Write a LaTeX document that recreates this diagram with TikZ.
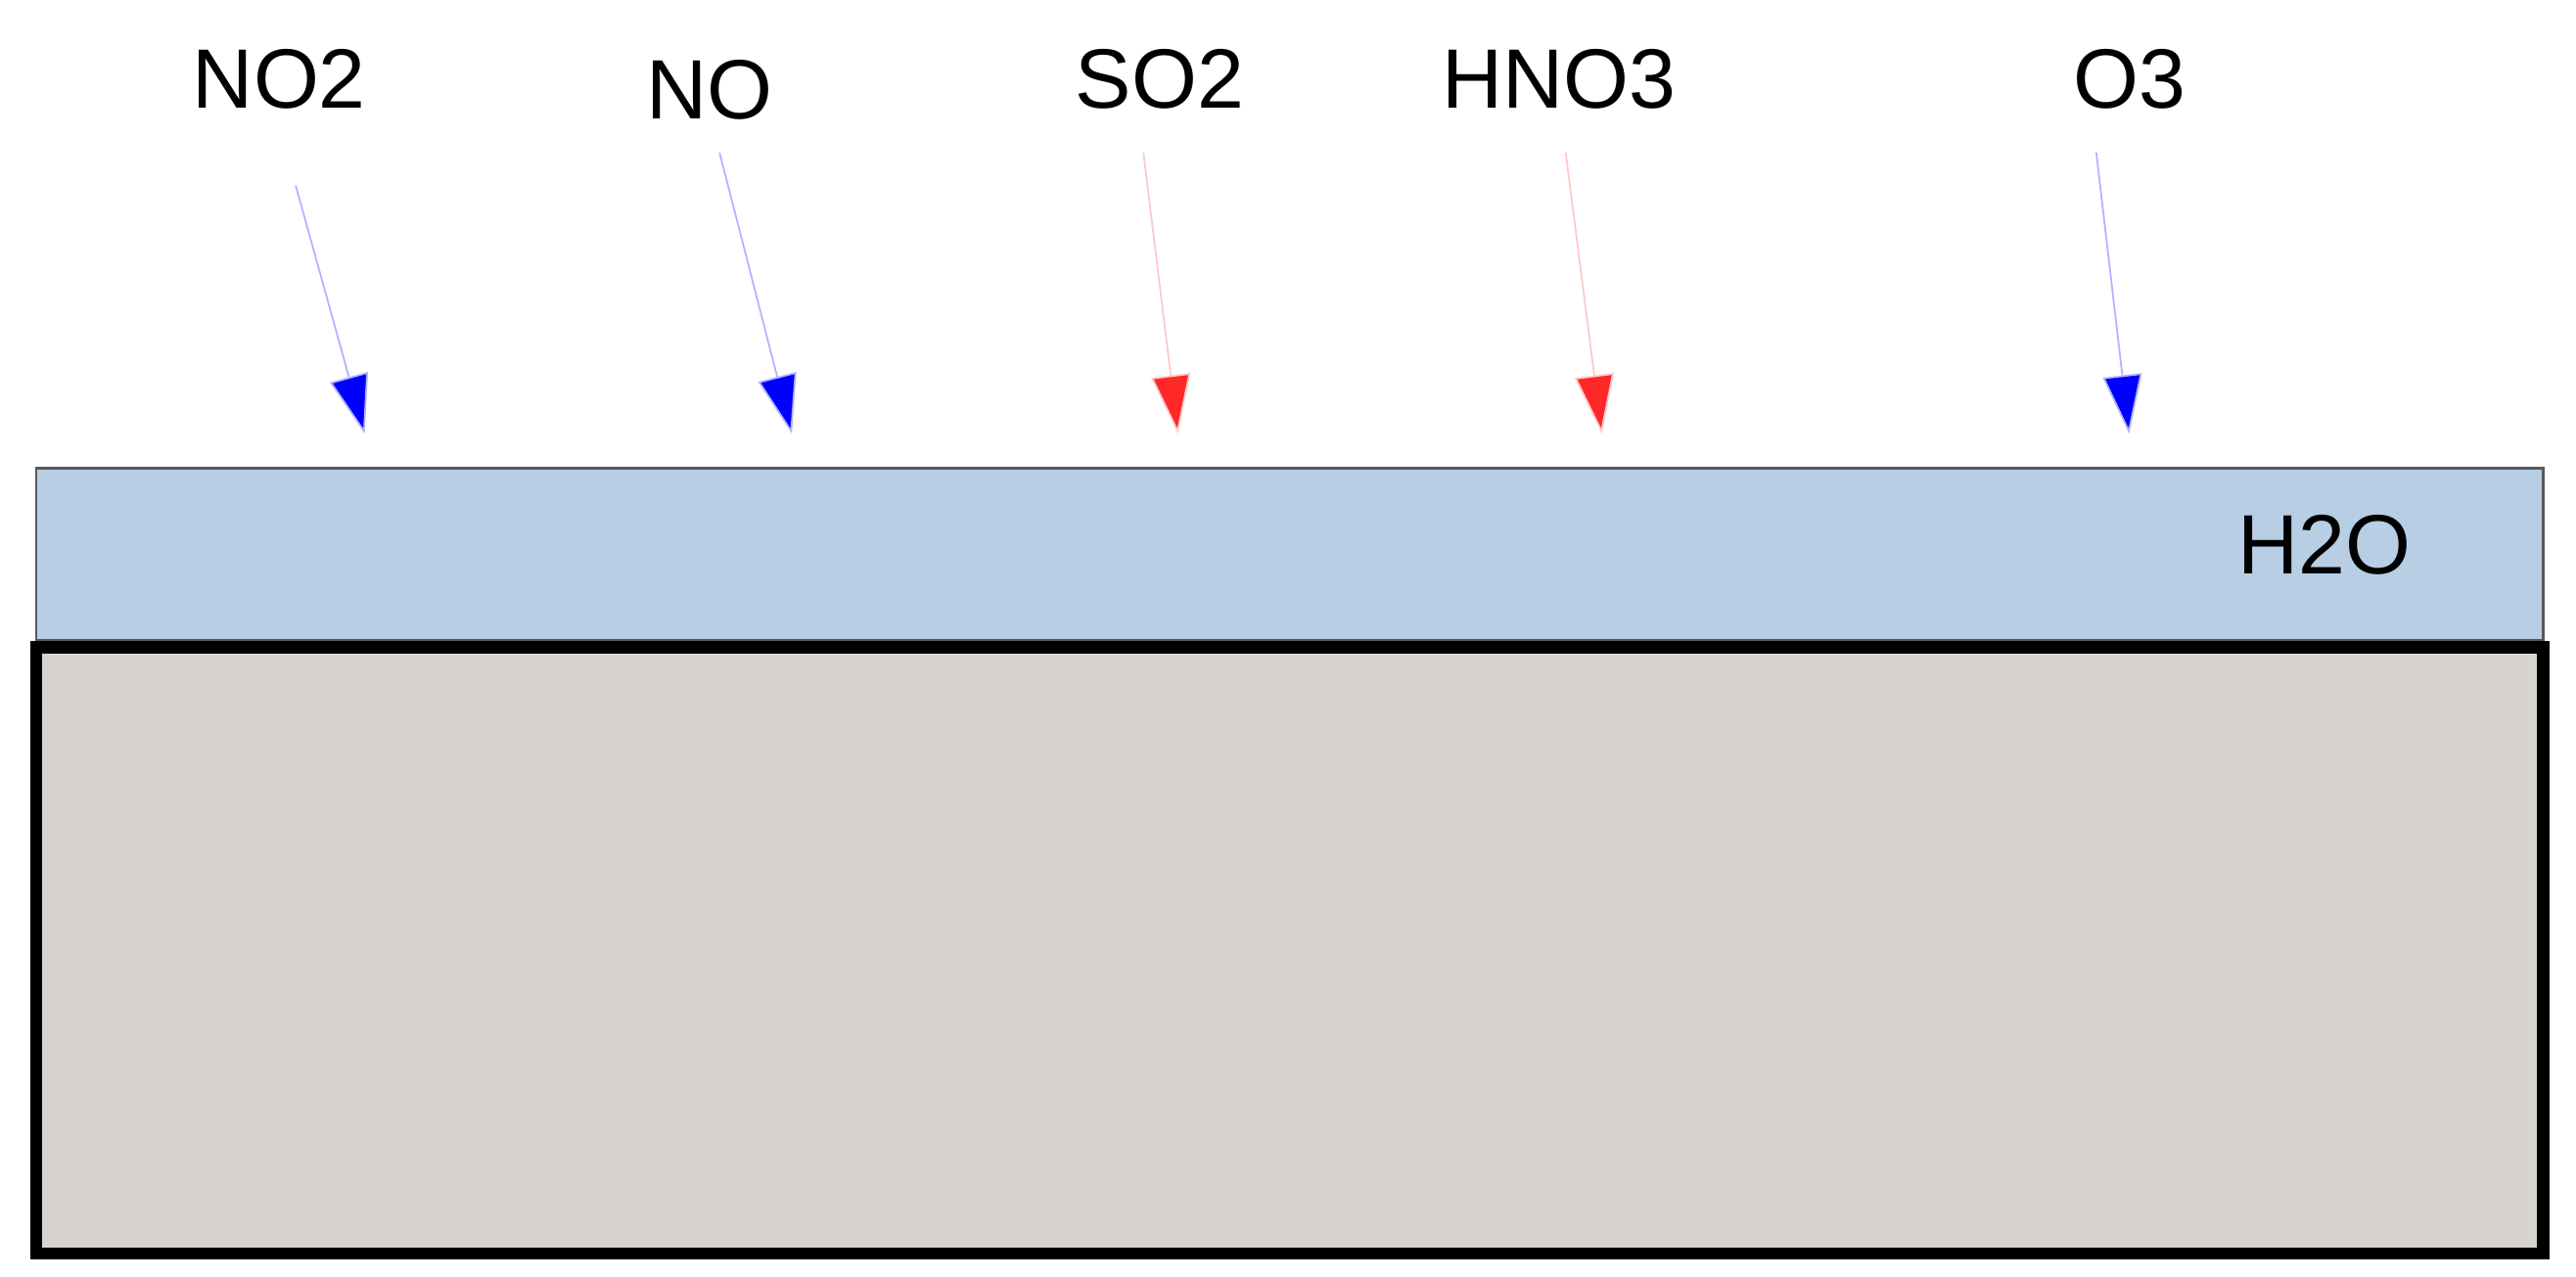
\documentclass[tikz,border=0pt]{standalone}
\usepackage{fontspec}
\setmainfont{Liberation Sans}
\usetikzlibrary{arrows.meta}
\definecolor{water}{RGB}{184,206,229}
\definecolor{rock}{RGB}{215,212,207}
\definecolor{ablue}{RGB}{0,0,255}
\definecolor{ared}{RGB}{255,40,40}
\begin{document}
\begin{tikzpicture}[x=0.01679cm,y=-0.01679cm,
  lab/.style={font=\fontsize{24.5}{29}\selectfont,inner sep=0pt},
  bluearr/.style={draw=ablue!30,line width=0.5pt,-{Triangle[length=0.6cm,width=0.4cm,fill=ablue]}},
  redarr/.style={draw=ared!25,line width=0.5pt,-{Triangle[length=0.6cm,width=0.4cm,fill=ared]}}]
\useasboundingbox (0,0) rectangle (1568,777);
\fill[white] (0,0) rectangle (1568,777);
\draw[fill=water,draw=gray!70!black,line width=0.8pt] (22,285) rectangle (1548,390);
\draw[fill=rock,draw=black,line width=3.5pt] (22,394) rectangle (1548,763);
\node[lab] (h2o) at (1415,332) {H2O};
\node[lab] (no2) at (170,48) {NO2};
\node[lab] (no) at (432,55) {NO};
\node[lab] (so2) at (706,48) {SO2};
\node[lab] (hno3) at (949,48) {HNO3};
\node[lab] (o3) at (1296,48) {O3};
\coordinate (e1) at (222,264);
\coordinate (e2) at (482,264);
\coordinate (e3) at (717,264);
\coordinate (e4) at (975,264);
\coordinate (e5) at (1296,264);
\draw[bluearr] (180,113) -- (e1);
\draw[bluearr] (438,93) -- (e2);
\draw[redarr] (696,93) -- (e3);
\draw[redarr] (953,93) -- (e4);
\draw[bluearr] (1276,93) -- (e5);
\end{tikzpicture}
\end{document}
